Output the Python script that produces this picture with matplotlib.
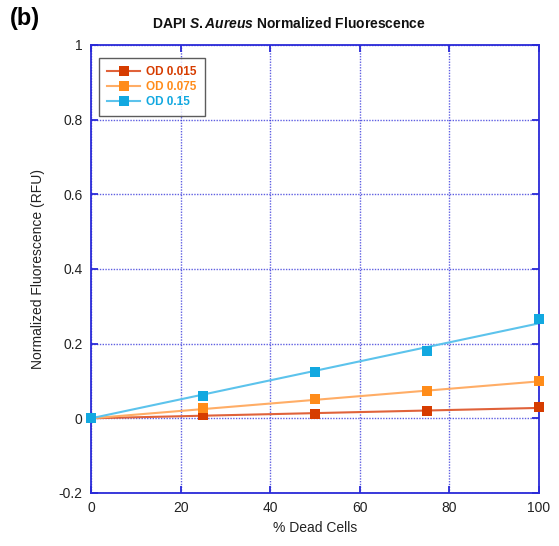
import numpy as np
import matplotlib
matplotlib.use("Agg")
from matplotlib import pyplot as plt

plt.rcParams['font.family'] = ['Liberation Sans', 'DejaVu Sans']
plt.rcParams['mathtext.fontset'] = 'custom'
plt.rcParams['mathtext.it'] = 'Liberation Sans:bold:italic'
plt.rcParams['mathtext.rm'] = 'Liberation Sans:bold'

# data
dead_pct = [0, 25, 50, 75, 100]
od_0015 = [0, 0.010, 0.011, 0.019, 0.030]
od_0075 = [0, 0.028, 0.051, 0.072, 0.099]
od_015 = [0, 0.059, 0.123, 0.181, 0.265]
series_names = ["OD 0.015", "OD 0.075", "OD 0.15"]
xticks = [0, 20, 40, 60, 80, 100]
yticks = [-0.2, 0, 0.2, 0.4, 0.6, 0.8, 1.0]
ytick_labels = ["-0.2", "0", "0.2", "0.4", "0.6", "0.8", "1"]

marker_cols = ["#d63c00", "#ff8c1a", "#12a8e0"]
line_cols = ["#e0623a", "#ffad66", "#5cc3ec"]
axcol = "#2a2ad8"

fig = plt.figure(figsize=(5.59, 5.46), dpi=100)
ax = fig.add_axes([0.1628, 0.0971, 0.8014, 0.8205])

x = np.array(dead_pct, dtype=float)
xfit = np.array([0, 100.0])
for ys, name, mc, lc in zip([od_0015, od_0075, od_015], series_names, marker_cols, line_cols):
    ys = np.array(ys)
    # linear fit through origin
    k = np.sum(x * ys) / np.sum(x * x)
    ax.plot(xfit, k * xfit, color=lc, lw=1.5, zorder=2)
    ax.plot(x, ys, ls='none', marker='s', ms=7, mew=0, color=mc, zorder=3, clip_on=False)
    ax.plot([], [], color=lc, lw=1.5, marker='s', ms=7, mew=0, mfc=mc, label=name)

ax.set_xlim(0, 100)
ax.set_ylim(-0.2, 1.0)
ax.set_xticks(xticks)
ax.set_yticks(yticks)
ax.set_yticklabels(ytick_labels)
ax.grid(True, color=axcol, ls=(0, (1, 1)), lw=1.0, alpha=0.75)
ax.set_axisbelow(True)
for s in ax.spines.values():
    s.set_color(axcol)
    s.set_linewidth(1.3)
ax.tick_params(direction='in', length=5, width=1.3, color=axcol, top=True, right=True,
               labelsize=10, labelcolor='#222222', pad=6)

ax.set_xlabel("% Dead Cells", fontsize=10, color='#222222', labelpad=4)
ax.set_ylabel("Normalized Fluorescence (RFU)", fontsize=10, color='#222222', labelpad=10)

fig.text(289 / 559, 1 - 24 / 546, r"DAPI $\mathit{S. Aureus}$ Normalized Fluorescence",
         fontsize=10, fontweight='bold', ha='center', va='center', color='#111111')
fig.text(0.018, 0.955, "(b)", fontsize=17, fontweight='bold')

leg = ax.legend(loc='upper left', bbox_to_anchor=(0.005, 0.985),
                prop={'size': 8.5, 'weight': 'bold'},
                frameon=True, fancybox=False, handlelength=2.8, borderpad=0.7,
                labelspacing=0.25, handletextpad=0.5)
leg.get_frame().set_edgecolor('#333333')
leg.get_frame().set_linewidth(1.0)
for t, c in zip(leg.get_texts(), marker_cols):
    t.set_color(c)

fig.savefig("out.png", dpi=100)
